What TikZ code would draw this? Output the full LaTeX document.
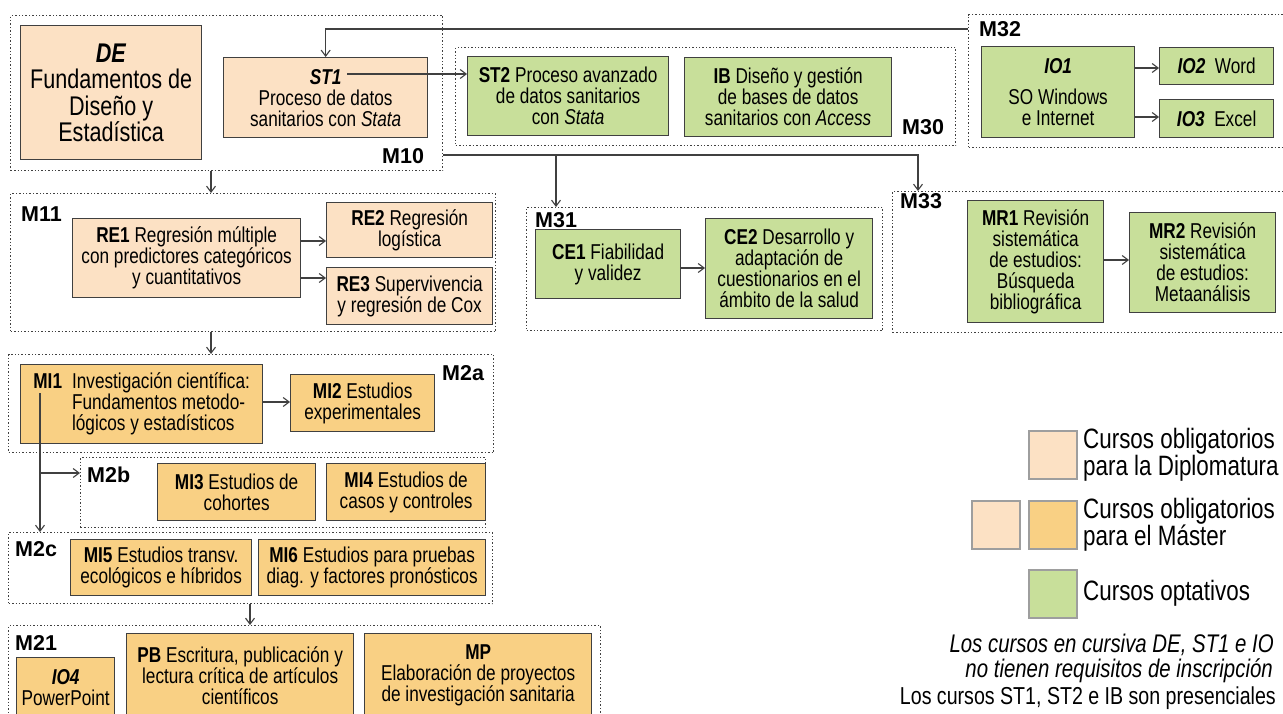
\documentclass[tikz,border=0pt]{standalone}
\usepackage{fontspec}
\setmainfont{Liberation Sans}
\newfontfamily\narrowfont[FakeStretch=0.8]{Liberation Sans}
\usetikzlibrary{positioning,arrows.meta}

\definecolor{diplo}{HTML}{FCE1C4}
\definecolor{master}{HTML}{F9D084}
\definecolor{optat}{HTML}{C8DF9A}
\definecolor{edge}{HTML}{404040}

\tikzset{
  course/.style={draw=edge, line width=1.3pt, anchor=north west, inner sep=0pt,
    align=center, font=\narrowfont\fontsize{21.5}{21}\selectfont},
  wh/.style 2 args={minimum width=#1, minimum height=#2},
  group/.style={draw=edge, line width=1.4pt, dotted, anchor=north west, inner sep=0pt},
  modlabel/.style={anchor=base west, inner sep=0pt, font=\bfseries\fontsize{21.5}{22}\selectfont},
  conn/.style={draw=edge, line width=1.1pt, -{Straight Barb[length=6pt,width=9pt]}},
  legsq/.style={draw=black!38, line width=2pt, minimum size=48, inner sep=0pt},
  legtext/.style={align=left, inner sep=0pt, font=\narrowfont\fontsize{28}{24}\selectfont},
  note/.style={anchor=base east, inner sep=0pt},
}

\begin{document}
\begin{tikzpicture}[x=1pt, y=-1pt]
\path[use as bounding box, fill=white] (0,0) rectangle (1283,714);

% M10
\node[group, wh={432}{155}] (m10) at (10,15) {};
\node[course, fill=diplo, wh={181}{134}, font=\narrowfont\fontsize{27}{26.5}\selectfont] (de) at (20,25)
  {\textbf{\textit{DE}}\\Fundamentos de\\Diseño y\\Estadística};
\node[course, fill=diplo, wh={204}{80}] (st1) at (223,57)
  {\textbf{\textit{ST1}}\\Proceso de datos\\sanitarios con \textit{Stata}};
\node[modlabel] (m10lab) at (382,164) {M10};

% M30
\node[group, wh={500}{98}] (m30) at (455,47) {};
\node[course, fill=optat, wh={201}{79}] (st2) at (467,56)
  {\textbf{ST2} Proceso avanzado\\de datos sanitarios\\con \textit{Stata}};
\node[course, fill=optat, wh={207}{79}] (ib) at (684,57)
  {\textbf{IB} Diseño y gestión\\de bases de datos\\sanitarios con \textit{Access}};
\node[modlabel] (m30lab) at (902,135) {M30};

% M32
\node[group, wh={320}{133}] (m32) at (968,14) {};
\node[course, fill=optat, wh={153}{91}] (io1) at (981,46)
  {\textbf{\textit{IO1}}\\[10pt]SO Windows\\e Internet};
\node[course, fill=optat, wh={114}{37}] (io2) at (1159,47) {\textbf{\textit{IO2}}\ \ Word};
\node[course, fill=optat, wh={114}{38}] (io3) at (1159,99) {\textbf{\textit{IO3}}\ \ Excel};
\node[modlabel] (m32lab) at (979,37) {M32};

% M11
\node[group, wh={485}{138}] (m11) at (10,193) {};
\node[course, fill=diplo, wh={228}{79}] (re1) at (72,218)
  {\textbf{RE1} Regresión múltiple\\con predictores categóricos\\y cuantitativos};
\node[course, fill=diplo, wh={166}{55}] (re2) at (326,202) {\textbf{RE2} Regresión\\logística};
\node[course, fill=diplo, wh={166}{57}] (re3) at (326,267) {\textbf{RE3} Supervivencia\\y regresión de Cox};
\node[modlabel] (m11lab) at (21,222) {M11};

% M31
\node[group, wh={356}{123}] (m31) at (526,207) {};
\node[course, fill=optat, wh={145}{69}] (ce1) at (535,229) {\textbf{CE1} Fiabilidad\\y validez};
\node[course, fill=optat, wh={167}{100}] (ce2) at (705,218)
  {\textbf{CE2} Desarrollo y\\adaptación de\\cuestionarios en el\\ámbito de la salud};
\node[modlabel] (m31lab) at (535,228) {M31};

% M33
\node[group, wh={400}{141}] (m33) at (892,191) {};
\node[course, fill=optat, wh={136}{122}] (mr1) at (967,200)
  {\textbf{MR1} Revisión\\sistemática\\de estudios:\\Búsqueda\\bibliográfica};
\node[course, fill=optat, wh={146}{100}] (mr2) at (1129,212)
  {\textbf{MR2} Revisión\\sistemática\\de estudios:\\Metaanálisis};
\node[modlabel] (m33lab) at (900,209) {M33};

% M2a, M2b, M2c
\node[group, wh={485}{98}] (m2a) at (8,354) {};
\node[course, fill=master, wh={242}{79}, align=left] (mi1) at (20,364)
  {\textbf{MI1}\hspace{10pt}Investigación científica:\\
   \hphantom{\textbf{MI1}\hspace{10pt}}Fundamentos metodo-\\
   \hphantom{\textbf{MI1}\hspace{10pt}}lógicos y estadísticos};
\node[course, fill=master, wh={144}{57}] (mi2) at (290,374) {\textbf{MI2} Estudios\\experimentales};
\node[modlabel] (m2alab) at (442,380) {M2a};

\node[group, wh={405}{70}] (m2b) at (80,457) {};
\node[course, fill=master, wh={158}{57}] (mi3) at (157,463) {\textbf{MI3} Estudios de\\cohortes};
\node[course, fill=master, wh={159}{57}] (mi4) at (326,463) {\textbf{MI4} Estudios de\\casos y controles};
\node[modlabel] (m2blab) at (87,482) {M2b};

\node[group, wh={484}{71}] (m2c) at (8,532) {};
\node[course, fill=master, wh={181}{56}] (mi5) at (70,539) {\textbf{MI5} Estudios transv.\\ecológicos e híbridos};
\node[course, fill=master, wh={227}{56}] (mi6) at (258,539) {\textbf{MI6} Estudios para pruebas\\diag. y factores pronósticos};
\node[modlabel] (m2clab) at (15,556) {M2c};

% M21
\node[group, wh={592}{100}] (m21) at (8,625) {};
\node[course, fill=master, wh={98}{60}] (io4) at (16,657) {\textbf{\textit{IO4}}\\PowerPoint};
\node[course, fill=master, wh={227}{84}] (pb) at (126,633)
  {\textbf{PB} Escritura, publicación y\\lectura crítica de artículos\\científicos};
\node[course, fill=master, wh={227}{84}] (mp) at (364,633)
  {\textbf{MP}\\Elaboración de proyectos\\de investigación sanitaria};
\node[modlabel] (m21lab) at (15,650) {M21};

% connectors
\coordinate (st1tag) at (347,74);
\coordinate (fork) at (556,155);
\coordinate (mi1tag) at (40,393);
\coordinate (mi1fork) at (40,473);
\draw[conn] (m32.west |- 0,29) -| (st1.north);
\draw[conn] (st1tag) -- (st1tag -| st2.west);
\draw[conn] (m10.east |- fork) -| ([xshift=26pt]m33.north west);
\draw[conn] (fork) -- (fork |- m31.north);
\draw[conn] (io1.east |- 0,68) -- (io2.west |- 0,68);
\draw[conn] (io1.east |- 0,117) -- (io3.west |- 0,117);
\draw[conn] ([xshift=201pt]m10.south west) -- ([xshift=201pt]m11.north west);
\draw[conn] (re1.east |- 0,241) -- (re2.west |- 0,241);
\draw[conn] (re1.east |- 0,278) -- (re3.west |- 0,278);
\draw[conn] (ce1.east |- 0,268) -- (ce2.west |- 0,268);
\draw[conn] (mr1.east |- 0,260) -- (mr2.west |- 0,260);
\draw[conn] ([xshift=201pt]m11.south west) -- ([xshift=203pt]m2a.north west);
\draw[conn] (mi1.east |- 0,402) -- (mi2.west |- 0,402);
\draw[conn] (mi1tag) -- (mi1tag |- m2c.north);
\draw[conn] (mi1fork) -- (mi1fork -| m2b.west);
\draw[conn] ([xshift=242pt]m2c.south west) -- ([xshift=242pt]m21.north west);

% legend
\node[legsq, fill=diplo] (lg1) at (1053,455) {};
\node[legsq, fill=diplo] (lg2a) at (995.5,524.5) {};
\node[legsq, fill=master] (lg2b) at (1053,524.5) {};
\node[legsq, fill=optat] (lg3) at (1053,593.5) {};
\node[legtext, right=5pt of lg1] (lg1txt) {Cursos obligatorios\\para la Diplomatura};
\node[legtext, right=5pt of lg2b] (lg2txt) {Cursos obligatorios\\para el Máster};
\node[legtext, right=5pt of lg3] (lg3txt) {Cursos optativos};
\node[note, font=\narrowfont\itshape\fontsize{25.5}{25}\selectfont] (note1) at (1274,652) {Los cursos en cursiva DE, ST1 e IO};
\node[note, font=\narrowfont\itshape\fontsize{25.5}{25}\selectfont] (note2) at (1273,677) {no tienen requisitos de inscripción};
\node[note, font=\narrowfont\fontsize{24.5}{25}\selectfont] (note3) at (1276,704) {Los cursos ST1, ST2 e IB son presenciales};
\end{tikzpicture}
\end{document}
